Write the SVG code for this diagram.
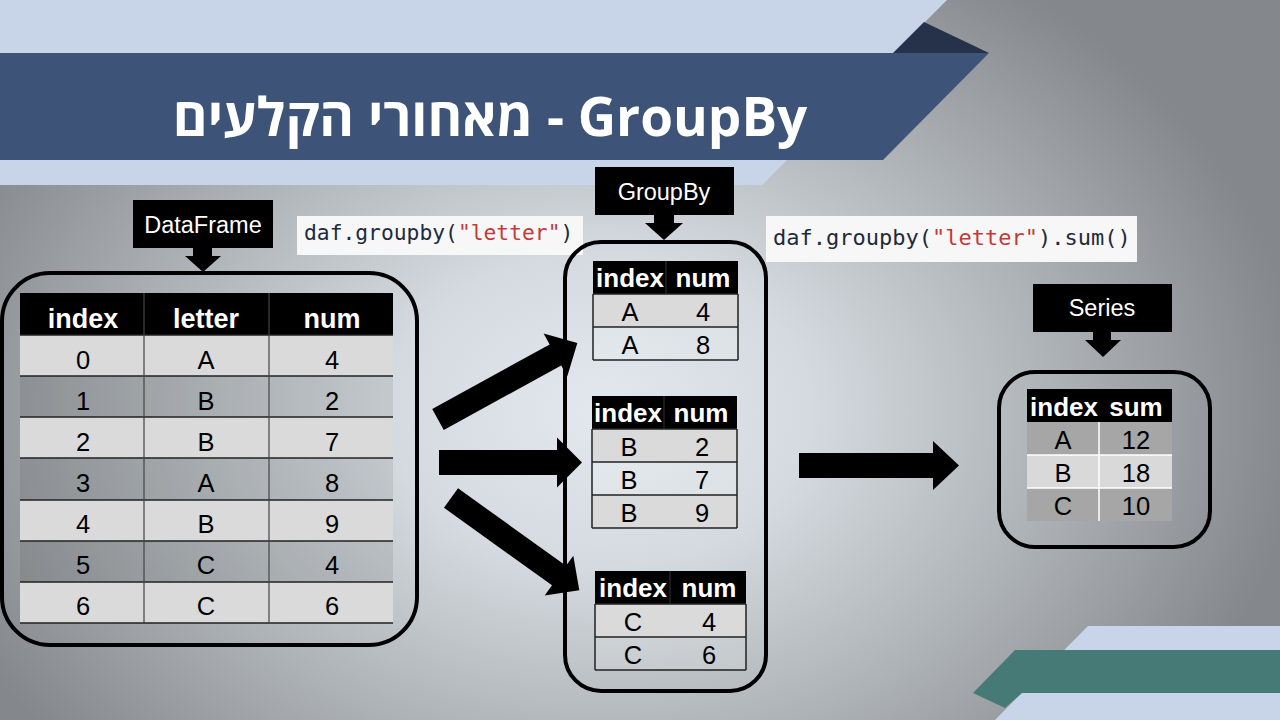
<svg xmlns="http://www.w3.org/2000/svg" width="1280" height="720" viewBox="0 0 1280 720">
<defs>
<radialGradient id="bg" gradientUnits="userSpaceOnUse" cx="600" cy="410" r="700" gradientTransform="translate(600 410) scale(1 0.75) translate(-600 -410)">
<stop offset="0" stop-color="#e2e8ed"/>
<stop offset="0.3" stop-color="#d4dadf"/>
<stop offset="0.6" stop-color="#b3b8bc"/>
<stop offset="0.82" stop-color="#9a9ea2"/>
<stop offset="1" stop-color="#84888c"/>
</radialGradient>
<style>
.lbl{fill:#000}
.lbltxt{font-family:"Liberation Sans",Arial,sans-serif;font-size:23.5px;fill:#fff;text-anchor:middle}
.frame{fill:none;stroke:#000;stroke-width:4}
.hdr{fill:#000}
.hdrtxt{font-family:"Liberation Sans",Arial,sans-serif;font-weight:bold;font-size:27px;fill:#fff;text-anchor:middle}
.shdr{font-family:"Liberation Sans",Arial,sans-serif;font-weight:bold;font-size:26px;fill:#fff;text-anchor:middle}
.cell{font-family:"Liberation Sans",Arial,sans-serif;font-size:25.5px;fill:#000;text-anchor:middle}
.light{fill:#dadada}
.dark{fill:#000;fill-opacity:0.08}
.pale{fill:#fff;fill-opacity:0.15}
.grid{stroke:#222;stroke-width:1.5;fill:none}
.vgrid{stroke:#444;stroke-width:1.2}
.hvgrid{stroke:#333;stroke-width:1}
.code{font-family:"DejaVu Sans Mono","Liberation Mono",monospace;fill:#1f2a3c}
.str{fill:#c33a3a}
.codebox{fill:#f7f7f7}
.arrow{fill:#000}
</style>
</defs>

<rect width="1280" height="720" fill="url(#bg)"/>

<g id="decor">
<polygon points="0,0 947,0 762,185 0,185" fill="#c8d5e8"/>
<polygon points="924,22 989,53 893,53" fill="#263249"/>
<polygon points="0,53 989,53 883,160 0,160" fill="#3e5378"/>
<polygon points="1088,626 1280,626 1280,720 995,720" fill="#c8d5e8"/>
<polygon points="1015,650 1280,650 1280,693 1022,693 1005,708 973,693" fill="#467a77"/>
</g>

<g id="title">
<text x="490" y="136" font-family="'Open Sans','DejaVu Sans','Liberation Sans',sans-serif" font-weight="bold" font-size="53" fill="#fff" text-anchor="middle">מאחורי הקלעים - GroupBy</text>
</g>

<g id="code1">
<rect class="codebox" x="297" y="216" width="286" height="39"/>
<text class="code" x="304" y="240" font-size="21.3">daf.groupby(<tspan class="str">"letter"</tspan>)</text>
</g>

<g id="code2">
<rect class="codebox" x="766" y="216" width="371" height="46"/>
<text class="code" x="773" y="245" font-size="22">daf.groupby(<tspan class="str">"letter"</tspan>).sum()</text>
</g>

<g id="dataframe-label">
<rect class="lbl" x="133" y="200" width="140" height="48"/>
<text class="lbltxt" x="203" y="233">DataFrame</text>
<polygon class="lbl" points="193,247 212,247 212,256 221,256 203,272 185,256 193,256"/>
</g>

<g id="dataframe">
<rect class="frame" x="2" y="273" width="415" height="372" rx="48"/>
<rect class="hdr" x="20" y="293" width="373" height="42"/>
<rect class="light" x="20" y="335" width="373" height="41"/>
<rect class="dark" x="20" y="376" width="373" height="41"/>
<rect class="light" x="20" y="417" width="373" height="41"/>
<rect class="dark" x="20" y="458" width="373" height="42"/>
<rect class="light" x="20" y="500" width="373" height="41"/>
<rect class="dark" x="20" y="541" width="373" height="41"/>
<rect class="light" x="20" y="582" width="373" height="41"/>
<path class="grid" d="M20,335H393M20,376H393M20,417H393M20,458H393M20,500H393M20,541H393M20,582H393M20,623H393"/>
<path class="vgrid" d="M144,293V623M269,293V623"/>
<text class="hdrtxt" x="83" y="328">index</text>
<text class="hdrtxt" x="206" y="328">letter</text>
<text class="hdrtxt" x="332" y="328">num</text>
<text class="cell" x="83" y="369">0</text><text class="cell" x="206" y="369">A</text><text class="cell" x="332" y="369">4</text>
<text class="cell" x="83" y="410">1</text><text class="cell" x="206" y="410">B</text><text class="cell" x="332" y="410">2</text>
<text class="cell" x="83" y="451">2</text><text class="cell" x="206" y="451">B</text><text class="cell" x="332" y="451">7</text>
<text class="cell" x="83" y="492">3</text><text class="cell" x="206" y="492">A</text><text class="cell" x="332" y="492">8</text>
<text class="cell" x="83" y="533">4</text><text class="cell" x="206" y="533">B</text><text class="cell" x="332" y="533">9</text>
<text class="cell" x="83" y="574">5</text><text class="cell" x="206" y="574">C</text><text class="cell" x="332" y="574">4</text>
<text class="cell" x="83" y="615">6</text><text class="cell" x="206" y="615">C</text><text class="cell" x="332" y="615">6</text>
</g>

<g id="groupby-label">
<rect class="lbl" x="595" y="167" width="139" height="48"/>
<text class="lbltxt" x="664" y="200">GroupBy</text>
<polygon class="lbl" points="654,214 674,214 674,223 683,223 664,240 645,223 654,223"/>
</g>

<g id="groupby">
<rect class="frame" x="565" y="242" width="201" height="449" rx="36"/>
<g id="group-a">
<rect class="hdr" x="593" y="261" width="145" height="33"/>
<rect class="light" x="593" y="294" width="145" height="33"/>
<rect class="pale" x="593" y="327" width="145" height="33"/>
<path class="grid" d="M593,294H738M593,327H738M593,360H738M593,294V360M738,294V360"/>
<path class="hvgrid" d="M666,261V294"/>
<text class="shdr" x="630" y="287">index</text>
<text class="shdr" x="703" y="287">num</text>
<text class="cell" x="630" y="321">A</text><text class="cell" x="703" y="321">4</text>
<text class="cell" x="630" y="354">A</text><text class="cell" x="703" y="354">8</text>
</g>
<g id="group-b">
<rect class="hdr" x="592" y="396" width="145" height="33"/>
<rect class="light" x="592" y="429" width="145" height="33"/>
<rect class="pale" x="592" y="462" width="145" height="33"/>
<rect class="light" x="592" y="495" width="145" height="33"/>
<path class="grid" d="M592,429H737M592,462H737M592,495H737M592,528H737M592,429V528M737,429V528"/>
<path class="hvgrid" d="M664,396V429"/>
<text class="shdr" x="628" y="422">index</text>
<text class="shdr" x="701" y="422">num</text>
<text class="cell" x="629" y="456">B</text><text class="cell" x="702" y="456">2</text>
<text class="cell" x="629" y="489">B</text><text class="cell" x="702" y="489">7</text>
<text class="cell" x="629" y="522">B</text><text class="cell" x="702" y="522">9</text>
</g>
<g id="group-c">
<rect class="hdr" x="595" y="571" width="151" height="33"/>
<rect class="light" x="595" y="604" width="151" height="33"/>
<rect class="pale" x="595" y="637" width="151" height="33"/>
<path class="grid" d="M595,604H746M595,637H746M595,670H746M595,604V670M746,604V670"/>
<path class="hvgrid" d="M670,571V604"/>
<text class="shdr" x="633" y="597">index</text>
<text class="shdr" x="709" y="597">num</text>
<text class="cell" x="633" y="631">C</text><text class="cell" x="709" y="631">4</text>
<text class="cell" x="633" y="664">C</text><text class="cell" x="709" y="664">6</text>
</g>
</g>

<g id="series-label">
<rect class="lbl" x="1033" y="284" width="139" height="48"/>
<text class="lbltxt" x="1102" y="316">Series</text>
<polygon class="lbl" points="1093,331 1111,331 1111,340 1121,340 1103,357 1085,340 1093,340"/>
</g>

<g id="series">
<rect class="frame" x="999" y="372" width="211" height="175" rx="36"/>
<rect class="hdr" x="1027" y="389" width="145" height="33"/>
<rect x="1027" y="422" width="145" height="33" fill="#a6a6a6"/>
<rect x="1027" y="455" width="145" height="33" fill="#d9d9d9"/>
<rect x="1027" y="488" width="145" height="33" fill="#a6a6a6"/>
<path d="M1027,455H1172M1027,488H1172M1099,422V521" stroke="#fff" stroke-width="1.5"/>
<text class="shdr" x="1064" y="416">index</text>
<text class="shdr" x="1136" y="416">sum</text>
<text class="cell" x="1063" y="449">A</text><text class="cell" x="1136" y="449">12</text>
<text class="cell" x="1063" y="482">B</text><text class="cell" x="1136" y="482">18</text>
<text class="cell" x="1063" y="515">C</text><text class="cell" x="1136" y="515">10</text>
</g>

<g id="connectors">
<path class="arrow" transform="translate(438 419.5) rotate(-28.8)" d="M0,-12H134V-24.5L159,0L134,24.5V12H0Z"/>
<path class="arrow" transform="translate(439 462.5)" d="M0,-12.5H118V-25L143,0L118,25V12.5H0Z"/>
<path class="arrow" transform="translate(451 498) rotate(35.7)" d="M0,-12H133V-24.5L158,0L133,24.5V12H0Z"/>
<path class="arrow" transform="translate(799 465.5)" d="M0,-12.5H134V-24.5L160,0L134,24.5V12.5H0Z"/>
</g>
</svg>
